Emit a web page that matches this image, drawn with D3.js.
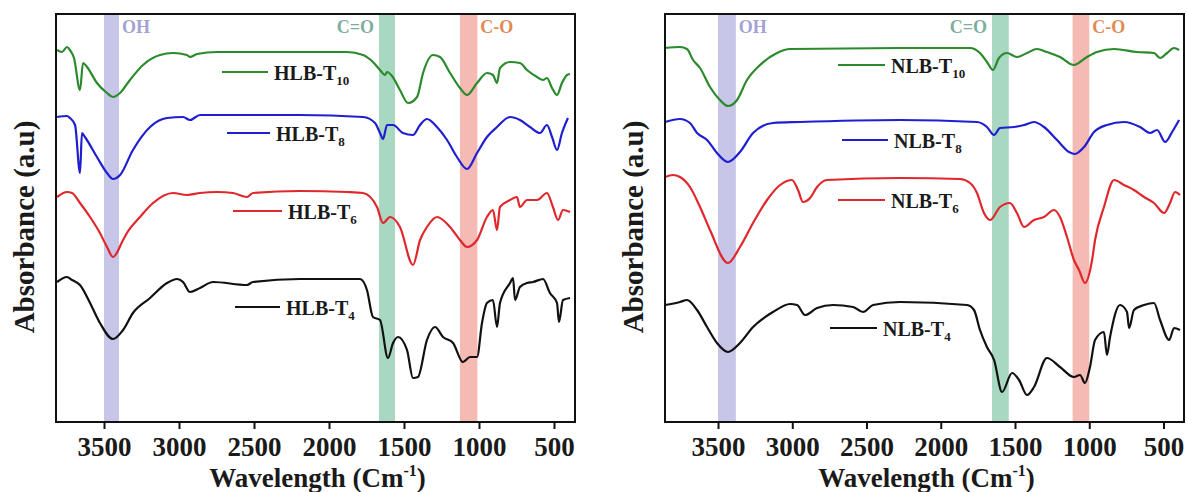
<!DOCTYPE html>
<html>
<head>
<meta charset="utf-8">
<script src="https://cdn.jsdelivr.net/npm/d3@7"></script>
<style>
  html, body { margin: 0; padding: 0; background: #ffffff; }
  svg { display: block; }
  text { font-family: "Liberation Serif", "Times New Roman", serif; font-weight: bold; }
</style>
</head>
<body>
<svg id="chart" width="1187" height="492"></svg>
<script>
// ---------------- DATA ----------------
const tickValues = [3500, 3000, 2500, 2000, 1500, 1000, 500];
const tickLabels = ["3500", "3000", "2500", "2000", "1500", "1000", "500"];
const xTitle = "Wavelength (Cm";
const xTitleSup = "-1";
const yTitle = "Absorbance (a.u)";
const bandNames = ["OH", "C=O", "C-O"];
const bandsLeft = [[3500, 3400], [1667, 1560], [1127, 1011]];
const bandsRight = [[3500, 3380], [1655, 1542], [1112, 1000]];
const seriesNamesLeft = ["HLB-T", "HLB-T", "HLB-T", "HLB-T"];
const seriesNamesRight = ["NLB-T", "NLB-T", "NLB-T", "NLB-T"];
const seriesSubs = ["10", "8", "6", "4"];

// [wavenumber cm-1, absorbance a.u.]
const hlbT10 = [[3813,372],[3780,370],[3747,375],[3727,372],[3700,364],[3660,332],[3640,359],[3613,355],[3547,339],[3480,329],[3440,325],[3393,329],[3327,342],[3240,357],[3127,367],[3040,369],[2947,367],[2927,365],[2880,368],[2747,370],[2193,370],[1880,370],[1773,367],[1707,360],[1660,352],[1627,347],[1613,350],[1580,346],[1527,332],[1473,319],[1413,325],[1373,349],[1307,367],[1260,365],[1193,349],[1127,334],[1080,327],[1013,339],[947,349],[907,347],[880,339],[860,354],[793,360],[727,359],[680,352],[613,345],[573,342],[547,344],[513,334],[480,327],[447,339],[413,347],[393,348]];
const hlbT8 = [[3813,305],[3747,306],[3727,304],[3693,297],[3660,249],[3647,289],[3627,285],[3547,265],[3480,249],[3440,243],[3393,247],[3307,272],[3193,295],[3080,304],[2973,305],[2927,302],[2860,307],[2193,307],[1773,305],[1693,299],[1660,289],[1640,283],[1613,297],[1573,297],[1507,289],[1440,287],[1393,297],[1347,303],[1280,295],[1213,282],[1147,265],[1080,253],[1013,269],[947,285],[880,295],[793,305],[727,302],[660,295],[593,289],[547,297],[513,285],[480,272],[447,289],[407,304]];
const hlbT6 = [[3813,225],[3747,230],[3713,229],[3660,219],[3593,205],[3527,189],[3480,175],[3440,165],[3373,182],[3347,189],[3260,205],[3173,219],[3040,229],[2947,227],[2860,229],[2747,230],[2640,229],[2547,225],[2507,229],[2193,231],[1880,230],[1773,229],[1680,215],[1640,199],[1593,205],[1527,195],[1440,157],[1393,182],[1347,195],[1280,205],[1193,195],[1127,182],[1080,175],[1013,182],[947,205],[907,212],[880,192],[860,215],[793,222],[747,225],[727,215],[680,222],[613,222],[547,229],[507,215],[473,202],[440,212],[393,210]];
const hlbT4 = [[3813,140],[3747,145],[3713,142],[3660,137],[3593,119],[3527,99],[3440,83],[3373,92],[3307,109],[3193,124],[3080,139],[3013,143],[2973,140],[2927,130],[2860,134],[2773,140],[2547,137],[2507,140],[2193,143],[1793,143],[1747,132],[1707,105],[1660,102],[1607,64],[1573,79],[1540,85],[1480,72],[1440,44],[1407,45],[1347,82],[1293,95],[1240,85],[1173,79],[1107,60],[1060,65],[1013,65],[980,99],[947,119],[907,122],[880,95],[860,119],[793,139],[773,144],[760,122],[727,135],[680,139],[640,140],[573,143],[527,129],[480,119],[467,100],[440,122],[393,124]];

const nlbT10 = [[3857,374],[3756,375],[3709,373],[3668,362],[3621,354],[3554,335],[3487,322],[3433,316],[3372,322],[3305,342],[3217,357],[3103,369],[3015,373],[2274,374],[1803,374],[1736,369],[1689,360],[1648,352],[1608,364],[1554,369],[1487,365],[1419,369],[1352,373],[1285,370],[1197,365],[1103,357],[1015,365],[948,370],[833,373],[678,370],[564,369],[523,364],[476,369],[429,374],[395,372]];
const nlbT8 = [[3857,300],[3756,303],[3689,299],[3641,289],[3574,282],[3507,269],[3433,260],[3352,270],[3264,289],[3130,299],[2948,300],[2274,302],[1756,300],[1689,295],[1641,287],[1601,294],[1507,295],[1439,297],[1372,300],[1305,295],[1217,282],[1136,270],[1096,268],[1035,275],[968,290],[881,297],[766,300],[658,295],[591,289],[543,292],[489,280],[442,290],[395,302]];
const nlbT6 = [[3857,245],[3803,247],[3756,245],[3689,235],[3621,215],[3554,192],[3433,159],[3352,175],[3264,199],[3170,222],[3082,237],[3002,242],[2961,232],[2928,220],[2880,224],[2833,235],[2766,242],[2274,244],[1870,243],[1803,239],[1756,229],[1709,209],[1668,202],[1601,215],[1534,219],[1487,209],[1439,195],[1372,202],[1305,205],[1237,212],[1197,205],[1150,185],[1103,162],[1069,152],[1029,139],[981,162],[961,182],[901,215],[833,242],[766,237],[699,232],[631,225],[564,219],[496,209],[456,219],[422,230],[389,227]];
const nlbT4 = [[3857,117],[3756,120],[3709,122],[3641,112],[3574,95],[3507,79],[3433,70],[3352,79],[3264,95],[3130,110],[3015,118],[2968,117],[2914,107],[2833,114],[2726,117],[2591,115],[2524,110],[2456,117],[2274,120],[1823,117],[1776,112],[1736,92],[1689,75],[1641,62],[1587,30],[1520,49],[1473,42],[1419,27],[1372,35],[1285,64],[1197,55],[1103,45],[1062,47],[1029,39],[995,55],[961,82],[901,90],[881,67],[860,85],[793,117],[746,110],[732,94],[699,112],[631,117],[564,119],[523,102],[462,82],[429,94],[389,92]];

const seriesColors = ["#2b8a2b", "#1f1fd0", "#e0282c", "#111111"];
const bandColors = ["#c7c6e8", "#a9d8c2", "#f5bab3"];
const bandLabelColors = ["#a3a2d2", "#7dae9d", "#e08a52"];

// ---------------- LAYOUT ----------------
const panels = [
  {
    left: 56, right: 575, domain: [3820, 360],
    series: [hlbT10, hlbT8, hlbT6, hlbT4], names: seriesNamesLeft, bands: bandsLeft,
    legend: [[222, 268, 72], [227, 270, 133], [233, 282, 211], [235, 280, 307]],
    yTitleX: 34
  },
  {
    left: 665, right: 1184, domain: [3857, 362],
    series: [nlbT10, nlbT8, nlbT6, nlbT4], names: seriesNamesRight, bands: bandsRight,
    legend: [[838, 885, 65], [842, 888, 140], [838, 885, 200], [830, 877, 328]],
    yTitleX: 643
  }
];
const plotTop = 14, plotBottom = 422;

const svg = d3.select("#chart");
const y = d3.scaleLinear().domain([0, 408]).range([plotBottom, plotTop]);

panels.forEach(p => {
  const x = d3.scaleLinear().domain(p.domain).range([p.left, p.right]);
  const g = svg.append("g");

  // bands
  p.bands.forEach((b, i) => {
    g.append("rect")
      .attr("x", x(b[0])).attr("y", plotTop)
      .attr("width", x(b[1]) - x(b[0])).attr("height", plotBottom - plotTop)
      .attr("fill", bandColors[i]);
  });
  // band labels
  const lbl = [
    { x: x(p.bands[0][1]) + 3, anchor: "start" },
    { x: x(p.bands[1][0]) - 5, anchor: "end" },
    { x: x(p.bands[2][1]) + 3, anchor: "start" }
  ];
  bandNames.forEach((n, i) => {
    g.append("text").attr("x", lbl[i].x).attr("y", 33)
      .attr("text-anchor", lbl[i].anchor)
      .attr("font-size", 18).attr("fill", bandLabelColors[i]).text(n);
  });

  // lines
  const line = d3.line().x(d => x(d[0])).y(d => y(d[1])).curve(d3.curveMonotoneX);
  p.series.forEach((s, i) => {
    g.append("path").datum(s).attr("d", line)
      .attr("fill", "none").attr("stroke", seriesColors[i])
      .attr("stroke-width", 2.2).attr("stroke-linejoin", "round");
  });

  // legend
  p.legend.forEach((L, i) => {
    g.append("line").attr("x1", L[0]).attr("x2", L[1]).attr("y1", L[2]).attr("y2", L[2])
      .attr("stroke", seriesColors[i]).attr("stroke-width", 2.2);
    const t = g.append("text").attr("x", L[1] + 6).attr("y", L[2] + 8)
      .attr("font-size", 20).attr("fill", "#1a1a1a");
    t.append("tspan").text(p.names[i]);
    t.append("tspan").attr("font-size", 13).attr("dy", 5).text(seriesSubs[i]);
  });

  // frame
  g.append("rect").attr("x", p.left).attr("y", plotTop)
    .attr("width", p.right - p.left).attr("height", plotBottom - plotTop)
    .attr("fill", "none").attr("stroke", "#111").attr("stroke-width", 2);

  // x axis
  const ax = g.append("g").attr("transform", `translate(0,${plotBottom})`)
    .call(d3.axisBottom(x).tickValues(tickValues)
      .tickFormat((d, i) => tickLabels[i]).tickSize(7).tickPadding(8));
  ax.select(".domain").remove();
  ax.selectAll(".tick line").attr("stroke", "#111").attr("stroke-width", 2);
  ax.selectAll(".tick text").attr("font-size", 27).attr("fill", "#1a1a1a")
    .attr("font-family", "'Liberation Serif', serif").attr("font-weight", "bold");

  // x title
  const xt = g.append("text").attr("x", (p.left + p.right) / 2 + 2).attr("y", 487)
    .attr("text-anchor", "middle").attr("font-size", 27).attr("fill", "#1a1a1a");
  xt.append("tspan").text(xTitle);
  xt.append("tspan").attr("font-size", 16).attr("dy", -11).text(xTitleSup);
  xt.append("tspan").attr("dy", 11).text(")");

  // y title
  g.append("text").attr("transform", `translate(${p.yTitleX},227) rotate(-90)`)
    .attr("text-anchor", "middle").attr("font-size", 29).attr("fill", "#1a1a1a")
    .text(yTitle);
});
</script>
</body>
</html>
